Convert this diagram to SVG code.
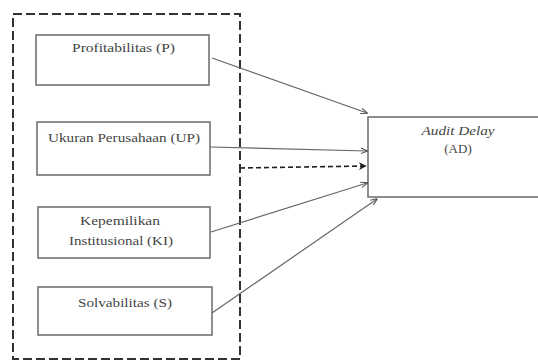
<svg xmlns="http://www.w3.org/2000/svg" width="538" height="361" viewBox="0 0 538 361">
<defs>
<style>
.box{fill:#fff;stroke:#6a6a6a;stroke-width:1.5}
.c{fill:none;stroke:#666;stroke-width:1.2}
.d{fill:none;stroke:#222;stroke-width:1.6;stroke-dasharray:5,3}
</style>
<marker id="ah" viewBox="0 0 10 10" refX="9" refY="5" markerWidth="7" markerHeight="7" orient="auto" markerUnits="userSpaceOnUse">
<path d="M0,1 L10,5 L0,9" fill="none" stroke="#555" stroke-width="1.5"/>
</marker>
<marker id="ahd" viewBox="0 0 10 10" refX="9" refY="5" markerWidth="8" markerHeight="8" orient="auto" markerUnits="userSpaceOnUse">
<path d="M0,0 L10,5 L0,10 L3,5 Z" fill="#222"/>
</marker>
</defs>
<rect x="13" y="14" width="227" height="345" fill="none" stroke="#333" stroke-width="2" stroke-dasharray="9,4"/>
<g font-family="Liberation Serif, DejaVu Serif, serif" font-size="13" fill="#444" text-anchor="middle">
<g id="node-P">
<rect class="box" x="36" y="35" width="173" height="50"/>
<text x="123.5" y="52" textLength="103" lengthAdjust="spacingAndGlyphs">Profitabilitas (P)</text>
</g>
<g id="node-UP">
<rect class="box" x="37" y="122" width="173" height="53"/>
<text x="124" y="142" textLength="152" lengthAdjust="spacingAndGlyphs">Ukuran Perusahaan (UP)</text>
</g>
<g id="node-KI">
<rect class="box" x="38" y="207" width="172" height="51"/>
<text x="120" y="225" textLength="80" lengthAdjust="spacingAndGlyphs">Kepemilikan</text>
<text x="121" y="245" textLength="104" lengthAdjust="spacingAndGlyphs">Institusional (KI)</text>
</g>
<g id="node-S">
<rect class="box" x="38" y="287" width="174" height="48"/>
<text x="125" y="307" textLength="94" lengthAdjust="spacingAndGlyphs">Solvabilitas (S)</text>
</g>
<g id="node-AD">
<rect class="box" x="368" y="117" width="180" height="80"/>
<text x="458" y="135" font-style="italic" textLength="73" lengthAdjust="spacingAndGlyphs">Audit Delay</text>
<text x="458" y="153">(AD)</text>
</g>
</g>
<g id="connectors">
<line class="c" x1="212" y1="58" x2="367" y2="113" marker-end="url(#ah)"/>
<line class="c" x1="210" y1="147" x2="367" y2="151" marker-end="url(#ah)"/>
<line class="d" x1="240" y1="168" x2="366" y2="166" marker-end="url(#ahd)"/>
<line class="c" x1="211" y1="232" x2="367" y2="183" marker-end="url(#ah)"/>
<line class="c" x1="212" y1="313" x2="377" y2="199" marker-end="url(#ah)"/>
</g>
</svg>
